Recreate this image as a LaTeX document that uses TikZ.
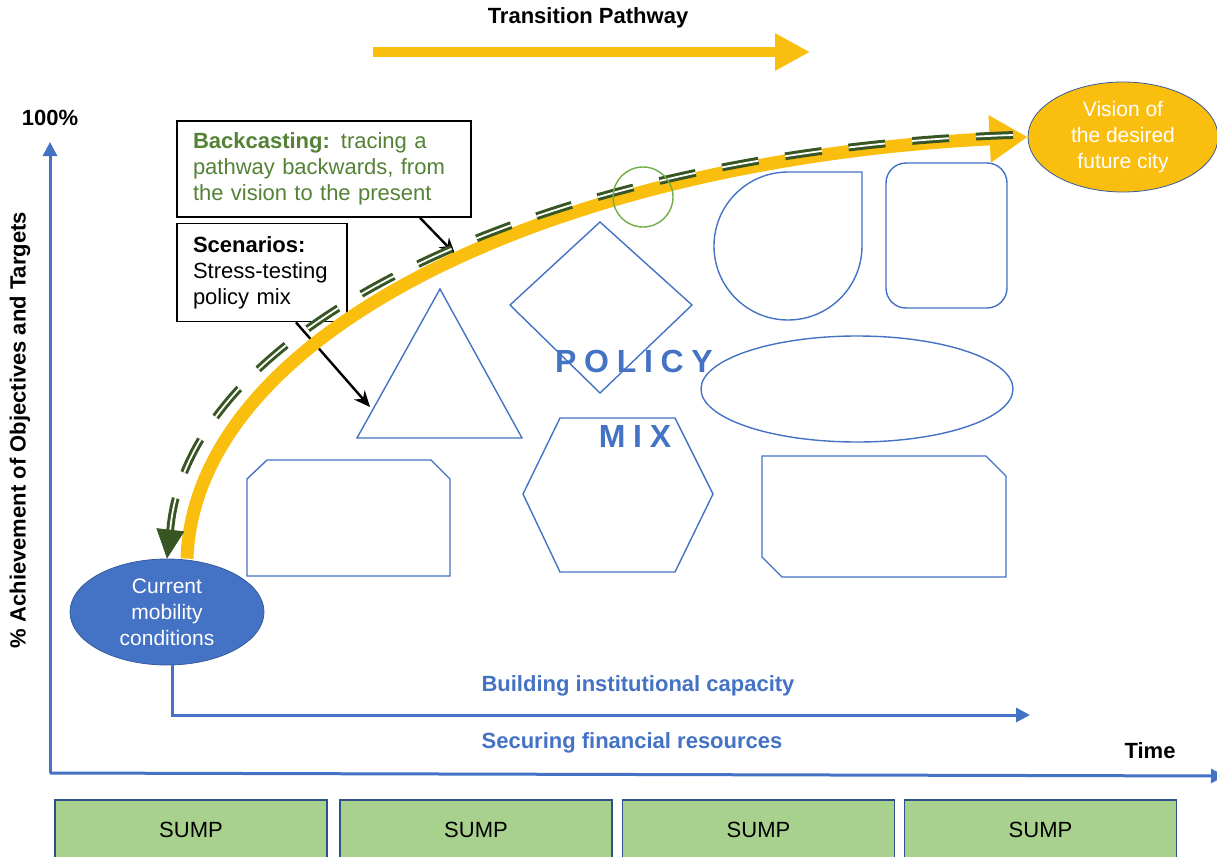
\documentclass[tikz,border=0pt]{standalone}
\usepackage{fontspec}
\setmainfont{Liberation Sans}
\usetikzlibrary{positioning,shapes.geometric,arrows.meta}

\begin{document}
\begin{tikzpicture}[x=0.5pt,y=-0.5pt]
\definecolor{Sump_blau}{RGB}{68,114,196}
\definecolor{Sump_gelb}{RGB}{250,190,15}
\definecolor{Sump_gruen}{RGB}{84,130,53}
\definecolor{Sump_dunkel}{RGB}{55,86,35}
\definecolor{Sump_hell}{RGB}{112,173,71}
\definecolor{Sump_kasten}{RGB}{169,209,142}
\tikzset{
    txt/.style={font=\fontsize{11}{13}\selectfont},
    fett/.style={font=\fontsize{11}{13}\selectfont\bfseries},
    form/.style={draw=Sump_blau, line width=0.7pt},
    infobox/.style={draw=black, line width=0.8pt, fill=white, align=left, inner xsep=8pt, inner ysep=0pt, txt},
    pointer/.style={-{Stealth[length=8pt,width=7pt]}, line width=1.2pt},
    achse/.style={draw=Sump_blau, line width=1.5pt, -{Triangle[length=7pt,width=7pt]}},
    sump/.style={draw=Sump_blau!70!black, line width=0.6pt, fill=Sump_kasten, minimum width=136pt, minimum height=30pt, txt},
    pathway/.style={draw=Sump_gelb, line width=6.5pt, -{Triangle[width=22.5pt,length=19pt]}},
    backline/.style={draw=Sump_dunkel, double=white, double distance=0.9pt, line width=1.5pt, dash pattern=on 18.5pt off 13.5pt},
    policytxt/.style={Sump_blau, font=\fontsize{16}{18}\selectfont\bfseries\addfontfeature{LetterSpace=24}},
}
\useasboundingbox (0,0) rectangle (1217,857);

% Titel oben
\node[fett] (titel) at (588,18) {Transition Pathway};
\coordinate (tpstart) at (373,52);
\coordinate (tpend) at (810,52);
\draw[Sump_gelb, line width=5pt, -{Triangle[width=17.5pt,length=17.5pt]}] (tpstart) -- (tpend);

% Achsen
\coordinate (ursprung) at (50,773);
\coordinate (ytop) at (50,142);
\coordinate (xend) at (1225,776);
\draw[achse] (ursprung) -- (ytop);
\draw[achse] (ursprung) -- (xend);
\node[fett] (hundert) at (50,118) {100\%};
\node[fett, rotate=90] (ylabel) at (20,430) {\% Achievement of Objectives and Targets};
\node[fett] (zeit) at (1150,751) {Time};

% Policy-Mix Formen
\draw[form] (440,289) -- (522,438) -- (357,438) -- cycle;
\draw[form] (600,222) -- (692,305) -- (600,393) -- (510,305) -- cycle;
\draw[form] (862,172) -- (788,172) arc[start angle=90, end angle=360, radius=37pt] -- cycle;
\draw[form, rounded corners=10pt] (886,163) rectangle (1007,308);
\draw[form] (857,389) ellipse [x radius=78pt, y radius=26.5pt];
\draw[form] (560,418) -- (675,418) -- (713,494) -- (675,572) -- (560,572) -- (523,494) -- cycle;
\draw[form] (267,460) -- (431,460) -- (450,479) -- (450,576) -- (247,576) -- (247,479) -- cycle;
\draw[form] (762,456) -- (986,456) -- (1006,476) -- (1006,577) -- (782,577) -- (762,557) -- cycle;
\node[policytxt] (policy) at (634,361) {POLICY};
\node[policytxt] (mix) at (635,436) {MIX};

% Start und Ziel
\node[ellipse, draw=Sump_blau!80!black, fill=Sump_blau, text=white, minimum width=97pt, minimum height=53pt, inner sep=0pt, align=center, font=\fontsize{10.5}{13}\selectfont] (current) at (167,612) {Current\\mobility\\conditions};
\node[ellipse, draw=Sump_blau!80!black, fill=Sump_gelb, text=white, minimum width=95pt, minimum height=55pt, inner sep=0pt, align=center, font=\fontsize{10.5}{13}\selectfont] (vision) at (1123,137) {Vision of\\the desired\\future city};

% Textkaesten
\node[infobox, text width=131pt, minimum height=48pt] (backcast) at (324,169) {\textcolor{Sump_gruen}{\textbf{Backcasting:} tracing a\\pathway backwards, from\\the vision to the present}};
\node[infobox, text width=69pt, minimum height=49pt, below=2.5pt of backcast.south west, anchor=north west] (scenario) {\textbf{Scenarios:}\\Stress-testing\\policy mix};
\coordinate (bctip) at (455,254);
\coordinate (sctip) at (370,407);
\draw[pointer] ([xshift=48pt]backcast.south) -- (bctip);
\draw[pointer] ([xshift=17pt]scenario.south) -- (sctip);

% Transformationspfad
\coordinate (bcstart) at (1013,135);
\coordinate (bcend) at (170,533);
\draw[pathway] ([xshift=10pt]current.north) .. controls (195,330) and (560,160) .. (vision.west);
\draw[backline] (bcstart) .. controls (560,150) and (185,320) .. (bcend);
\draw[Sump_dunkel, line width=0.4pt, -{Triangle[width=14pt,length=14.5pt]}] (bcend) -- (current.north);
\node[circle, draw=Sump_hell, line width=0.7pt, minimum size=30pt, inner sep=0pt] (marker) at (643,197) {};

% Kapazitaet
\coordinate (capcorner) at (172,715);
\coordinate (capend) at (1030,715);
\draw[achse] (current.south -| capcorner) -- (capcorner) -- (capend);
\node[fett, text=Sump_blau] (kapazitaet) at (638,686) {Building institutional capacity};
\node[fett, text=Sump_blau] (finanzen) at (632,743) {Securing financial resources};

% SUMP-Zyklen
\foreach \x [count=\i] in {191,476,758.5,1040.5} {
    \node[sump] (sump\i) at (\x,830) {SUMP};
}
\end{tikzpicture}
\end{document}
